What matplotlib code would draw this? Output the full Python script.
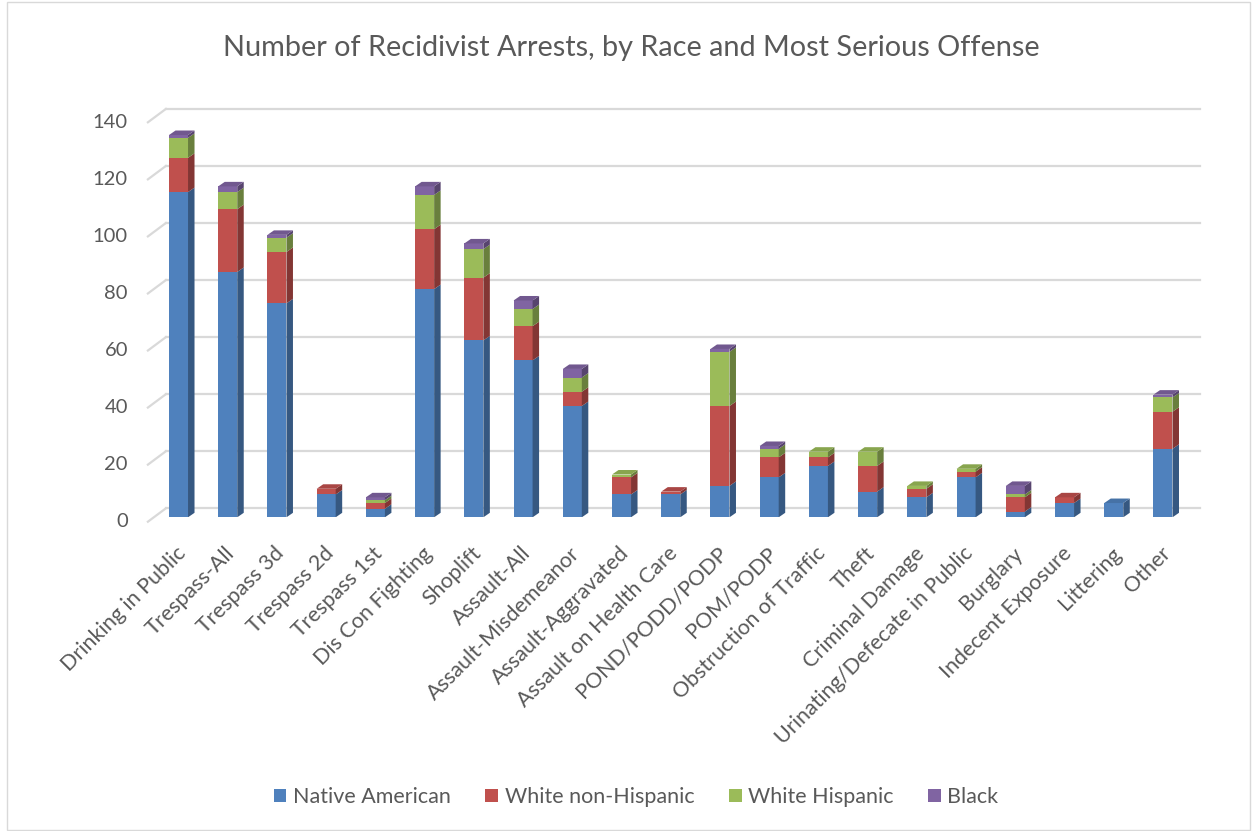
import numpy as np
import matplotlib.pyplot as plt
from matplotlib.patches import Polygon, Patch, Rectangle

plt.rcParams['font.family'] = ['Lato', 'DejaVu Sans']

# Values
offenses = ["Drinking in Public", "Trespass-All", "Trespass 3d", "Trespass 2d",
            "Trespass 1st", "Dis Con Fighting", "Shoplift", "Assault-All",
            "Assault-Misdemeanor", "Assault-Aggravated", "Assault on Health Care",
            "POND/PODD/PODP", "POM/PODP", "Obstruction of Traffic", "Theft",
            "Criminal Damage", "Urinating/Defecate in Public", "Burglary",
            "Indecent Exposure", "Littering", "Other"]
native_american = [114, 86, 75, 8, 3, 80, 62, 55, 39, 8, 8, 11, 14, 18, 9, 7, 14, 2, 5, 5, 24]
white_non_hisp = [12, 22, 18, 2, 2, 21, 22, 12, 5, 6, 1, 28, 7, 3, 9, 3, 2, 5, 2, 0, 13]
white_hisp = [7, 6, 5, 0, 1, 12, 10, 6, 5, 1, 0, 19, 3, 2, 5, 1, 1, 1, 0, 0, 5]
black = [1, 2, 1, 0, 1, 3, 2, 3, 3, 0, 0, 1, 1, 0, 0, 0, 0, 3, 0, 0, 1]

series = [native_american, white_non_hisp, white_hisp, black]
names = ["Native American", "White non-Hispanic", "White Hispanic", "Black"]
colors = ["#4f81bd", "#c0504d", "#9bbb59", "#8064a2"]
yticks = [0, 20, 40, 60, 80, 100, 120, 140]

W, H = 1253, 831
fig = plt.figure(figsize=(W / 100, H / 100), dpi=100)

# axes placed so that the bar front plane maps onto the picture
x0, x1 = 153.9, 1187.6
y0, y1 = 517.3, 117.9
ax = fig.add_axes([x0 / W, 1 - y0 / H, (x1 - x0) / W, (y0 - y1) / H])
ax.set_xlim(-0.5, 20.5)
ax.set_ylim(0, 140)
ax.axis('off')

px_x = 1 / 49.2           # data units per pixel, x
px_y = 140 / 399.4        # data units per pixel, y


def shade(c, f):
    c = np.array(plt.matplotlib.colors.to_rgb(c))
    return tuple(np.clip(c * f, 0, 1))


# back wall gridlines + left side wall slant
back_dx, back_dy = 12 * px_x, 9 * px_y
front_dx, front_dy = -6 * px_x, -4.4 * px_y
for v in yticks:
    ax.plot([-0.5 + back_dx, 20.75], [v + back_dy, v + back_dy],
            color='#d9d9d9', lw=1.6, zorder=1, clip_on=False)
    ax.plot([-0.5 + front_dx, -0.5 + back_dx], [v + front_dy, v + back_dy],
            color='#d9d9d9', lw=1.6, zorder=1, clip_on=False)
    ax.text(-0.5 + front_dx - 20 * px_x, v + front_dy, str(v), ha='right',
            va='center', fontsize=14.5, color='#595959', clip_on=False)

# 3D-looking stacked columns
bw = 0.386
ddx, ddy = 6.5 * px_x, 4.5 * px_y
x = np.arange(len(offenses))
bottom = np.zeros(len(offenses))
top_color = [None] * len(offenses)
for vals, col, name in zip(series, colors, names):
    vals = np.array(vals, dtype=float)
    ax.bar(x, vals, bw, bottom=bottom, color=col, zorder=3, label=name)
    for i in range(len(x)):
        if vals[i] <= 0:
            continue
        xr = x[i] + bw / 2
        b, t = bottom[i], bottom[i] + vals[i]
        side = Polygon([(xr, b), (xr, t), (xr + ddx, t + ddy), (xr + ddx, b + ddy)],
                       closed=True, fc=shade(col, 0.68), ec='none', zorder=3)
        ax.add_patch(side)
        top_color[i] = col
    bottom += vals

for i in range(len(x)):
    xl, xr = x[i] - bw / 2, x[i] + bw / 2
    t = bottom[i]
    cap = Polygon([(xl, t), (xr, t), (xr + ddx, t + ddy), (xl + ddx, t + ddy)],
                  closed=True, fc=shade(top_color[i], 0.88), ec='none', zorder=4,
                  clip_on=False)
    ax.add_patch(cap)

# category labels
for i, lab in enumerate(offenses):
    ax.text(x[i] + 4 * px_x, -33 * px_y, lab, rotation=45,
            rotation_mode='anchor', ha='right', va='center', fontsize=15.5,
            color='#595959', clip_on=False)

fig.text(631 / W, 1 - 48 / H, 'Number of Recidivist Arrests, by Race and Most Serious Offense',
         ha='center', va='center', fontsize=20.8, color='#595959')

handles = [Patch(fc=c, ec='none') for c in colors]
fig.legend(handles, names, loc='center', bbox_to_anchor=(636 / W, 1 - 797 / H),
           ncol=4, frameon=False, fontsize=15.5, handlelength=0.6, handleheight=0.6,
           handletextpad=0.3, columnspacing=1.6, labelcolor='#595959')

fig.patches.append(Rectangle((7 / W, 1 / H), 1243 / W, 828 / H, transform=fig.transFigure,
                             fill=False, ec='#d9d9d9', lw=1))

plt.savefig('out.png', dpi=100)
